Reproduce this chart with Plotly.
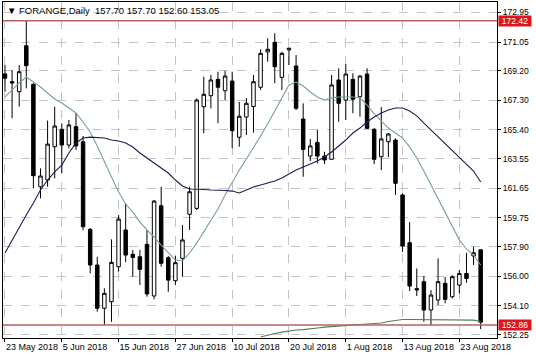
import plotly.graph_objects as go

dates = [
    "2018-05-23", "2018-05-24", "2018-05-25", "2018-05-29", "2018-05-30", "2018-05-31",
    "2018-06-01", "2018-06-04", "2018-06-05", "2018-06-06", "2018-06-07", "2018-06-08",
    "2018-06-11", "2018-06-12", "2018-06-13", "2018-06-14", "2018-06-15", "2018-06-18",
    "2018-06-19", "2018-06-20", "2018-06-21", "2018-06-22", "2018-06-25", "2018-06-26",
    "2018-06-27", "2018-06-28", "2018-06-29", "2018-07-02", "2018-07-03", "2018-07-05",
    "2018-07-06", "2018-07-09", "2018-07-10", "2018-07-11", "2018-07-12", "2018-07-13",
    "2018-07-16", "2018-07-17", "2018-07-18", "2018-07-19", "2018-07-20", "2018-07-23",
    "2018-07-24", "2018-07-25", "2018-07-26", "2018-07-27", "2018-07-30", "2018-07-31",
    "2018-08-01", "2018-08-02", "2018-08-03", "2018-08-06", "2018-08-07", "2018-08-08",
    "2018-08-09", "2018-08-10", "2018-08-13", "2018-08-14", "2018-08-15", "2018-08-16",
    "2018-08-17", "2018-08-20", "2018-08-21", "2018-08-22", "2018-08-23", "2018-08-24",
    "2018-08-27", "2018-08-28",
]

open_ = [169.00, 168.50, 167.86, 170.81, 168.33, 161.75, 162.18, 164.32, 165.44, 164.43,
         165.61, 164.64, 159.01, 156.72, 153.94, 154.36, 156.61, 158.97, 157.41, 157.25,
         158.05, 154.73, 160.53, 157.19, 155.71, 157.15, 159.98, 160.36, 166.89, 167.60,
         168.65, 167.92, 168.54, 164.93, 166.23, 166.90, 168.14, 170.41, 171.03, 168.78,
         170.54, 169.51, 166.10, 163.72, 164.60, 163.72, 163.51, 168.61, 167.32, 168.65,
         167.53, 168.99, 165.44, 163.68, 164.64, 164.75, 161.22, 158.15, 155.20, 155.65,
         153.83, 154.47, 155.54, 154.68, 155.43, 156.18, 157.30, 157.70]
high = [169.57, 169.25, 169.57, 172.42, 168.40, 162.93, 166.00, 166.89, 165.82, 166.04,
        166.47, 165.01, 159.10, 157.25, 155.22, 158.37, 159.93, 160.68, 157.68, 157.68,
        158.97, 160.90, 161.75, 157.30, 157.30, 159.29, 161.75, 167.43, 168.82, 168.93,
        169.14, 169.20, 169.14, 167.20, 167.45, 168.93, 170.58, 171.29, 171.61, 170.43,
        170.68, 170.21, 167.11, 164.82, 165.40, 164.00, 168.93, 169.36, 169.64, 169.04,
        168.93, 169.36, 165.52, 166.87, 165.20, 164.86, 161.33, 159.48, 156.50, 156.01,
        155.11, 157.15, 155.95, 156.07, 156.40, 157.50, 157.90, 157.70]
low = [167.86, 166.15, 166.89, 168.07, 161.65, 161.00, 161.75, 162.29, 162.61, 164.22,
       164.11, 158.95, 156.18, 153.72, 152.86, 153.07, 156.29, 156.90, 155.97, 155.43,
       154.68, 154.51, 156.61, 155.00, 155.43, 155.97, 158.97, 160.25, 165.18, 166.79,
       165.83, 167.32, 164.22, 164.32, 165.07, 165.23, 167.97, 169.78, 168.40, 167.97,
       169.57, 166.68, 162.39, 163.40, 163.25, 163.21, 163.51, 165.93, 166.04, 166.47,
       166.25, 165.50, 163.21, 162.82, 163.66, 161.22, 157.57, 155.05, 154.73, 153.07,
       152.86, 154.15, 154.26, 154.58, 154.90, 155.58, 156.72, 152.60]
close = [168.72, 168.42, 169.14, 169.53, 162.46, 162.44, 164.49, 165.65, 164.43, 165.72,
         164.37, 159.18, 156.72, 153.94, 154.90, 156.89, 159.67, 157.36, 157.21, 156.44,
         154.86, 160.83, 156.83, 155.75, 156.87, 158.33, 161.43, 167.32, 167.69, 168.61,
         168.14, 168.86, 165.35, 166.28, 167.11, 168.50, 170.32, 170.58, 169.46, 170.32,
         170.65, 166.79, 164.15, 164.37, 163.72, 163.47, 168.29, 167.11, 168.99, 167.37,
         168.86, 165.50, 163.51, 164.82, 165.14, 161.97, 157.94, 155.37, 155.12, 153.83,
         154.79, 155.65, 154.51, 155.97, 156.18, 155.86, 157.51, 153.05]

ma_fast = [167.52, 167.97, 168.42, 168.80, 168.48, 168.16, 167.77, 167.39, 167.13, 166.81,
           166.49, 165.91, 165.27, 164.37, 163.34, 162.37, 161.41, 160.64, 160.12, 159.48,
           158.97, 158.52, 158.00, 157.49, 157.04, 156.98, 157.49, 158.13, 158.84, 159.55,
           160.32, 161.22, 162.05, 162.82, 163.53, 164.24, 165.01, 165.78, 166.62, 167.45,
           168.29, 168.48, 168.22, 167.84, 167.52, 167.32, 167.45, 167.52, 167.52, 167.52,
           167.45, 167.00, 166.43, 165.97, 165.52, 165.20, 164.88, 164.30, 163.60, 162.76,
           161.86, 160.96, 160.06, 159.16, 158.32, 157.75, 157.36, 156.72]
ma_slow = [157.49, 158.32, 159.10, 159.93, 160.70, 161.54, 162.18, 162.70, 163.14, 163.92,
           164.56, 164.88, 164.94, 164.91, 164.88, 164.75, 164.69, 164.56, 164.30, 163.92,
           163.60, 163.27, 162.95, 162.63, 162.18, 161.80, 161.60, 161.60, 161.57, 161.54,
           161.54, 161.51, 161.47, 161.35, 161.54, 161.73, 161.86, 161.99, 162.12, 162.31,
           162.57, 162.82, 163.02, 163.21, 163.40, 163.66, 163.98, 164.37, 164.75, 165.20,
           165.52, 165.91, 166.23, 166.49, 166.68, 166.81, 166.81, 166.62, 166.30, 165.84,
           165.40, 164.94, 164.56, 164.11, 163.66, 163.21, 162.76, 162.05]
ma_long = [None] * 36 + [152.09, 152.22, 152.32, 152.41, 152.48, 152.54, 152.57, 152.64,
                         152.67, 152.73, 152.77, 152.80, 152.83, 152.86, 152.89, 152.93,
                         152.96, 152.99, 153.09, 153.15, 153.22, 153.22, 153.22, 153.22,
                         153.22, 153.22, 153.22, 153.22, 153.22, 153.22, 153.18, 153.09]

level_lines = [172.42, 152.86]
ytick_vals = [172.95, 171.05, 169.20, 167.30, 165.40, 163.55, 161.65, 159.75,
              157.90, 156.00, 154.10, 152.25]
xtick_dates = ["2018-05-23", "2018-06-05", "2018-06-15", "2018-06-27", "2018-07-10",
               "2018-07-20", "2018-08-01", "2018-08-13", "2018-08-23"]
xtick_text = ["23 May 2018", "5 Jun 2018", "15 Jun 2018", "27 Jun 2018", "10 Jul 2018",
              "20 Jul 2018", "1 Aug 2018", "13 Aug 2018", "23 Aug 2018"]
title_text = "▼ FORANGE,Daily  157.70 157.70 152.60 153.05"

FONT = "Liberation Sans"

fig = go.Figure()
fig.add_trace(go.Candlestick(
    x=dates, open=open_, high=high, low=low, close=close,
    increasing=dict(line=dict(color="black", width=1), fillcolor="white"),
    decreasing=dict(line=dict(color="black", width=1), fillcolor="black"),
    whiskerwidth=0, showlegend=False, hoverinfo="skip",
))
fig.add_trace(go.Scatter(x=dates, y=ma_fast, mode="lines",
                         line=dict(color="#78a292", width=1.1), showlegend=False, hoverinfo="skip"))
fig.add_trace(go.Scatter(x=dates, y=ma_slow, mode="lines",
                         line=dict(color="#1c1c50", width=1.1), showlegend=False, hoverinfo="skip"))
fig.add_trace(go.Scatter(x=dates, y=ma_long, mode="lines",
                         line=dict(color="#4f8050", width=1.1), showlegend=False, hoverinfo="skip"))

for lv in level_lines:
    fig.add_shape(type="line", xref="paper", x0=0, x1=1, yref="y", y0=lv, y1=lv,
                  line=dict(color="#b86060", width=1.5))
    fig.add_annotation(xref="paper", x=1, xanchor="left", xshift=1, yref="y", y=lv,
                       text=f"{lv:.2f}", showarrow=False, height=10, width=32,
                       font=dict(family=FONT, size=8.5, color="white"),
                       bgcolor="#e0141c", borderpad=0)

fig.add_annotation(xref="paper", yref="paper", x=0, y=1, xanchor="left", yanchor="top",
                   xshift=2, yshift=-1, text=title_text, showarrow=False,
                   font=dict(family=FONT, size=9.5, color="black"))

fig.update_layout(
    width=536, height=358,
    margin=dict(l=3, r=39, t=2, b=20, autoexpand=False),
    paper_bgcolor="white", plot_bgcolor="white",
    font=dict(family=FONT, size=9, color="black"),
    hovermode=False,
)
fig.update_xaxes(
    type="category", range=[-0.28, 69.3], rangeslider=dict(visible=False),
    tickvals=xtick_dates, ticktext=xtick_text, ticklabelposition="outside right",
    tickangle=0, automargin=False,
    ticks="outside", ticklen=3, tickcolor="black",
    showgrid=True, gridcolor="#c4c4c4", griddash="dash", gridwidth=1,
    showline=True, linecolor="black", linewidth=1, mirror=True,
    tickfont=dict(family=FONT, size=9),
)
fig.update_yaxes(
    side="right", range=[152.03, 173.62], automargin=False,
    tickvals=ytick_vals, ticktext=[f"{v:.2f}" for v in ytick_vals],
    ticks="outside", ticklen=3, tickcolor="black", ticklabeloverflow="allow",
    showgrid=True, gridcolor="#c4c4c4", griddash="dash", gridwidth=1,
    showline=True, linecolor="black", linewidth=1, mirror=True,
    tickfont=dict(family=FONT, size=8.5), zeroline=False,
)

fig.write_html("out.html", config={"displayModeBar": False})
